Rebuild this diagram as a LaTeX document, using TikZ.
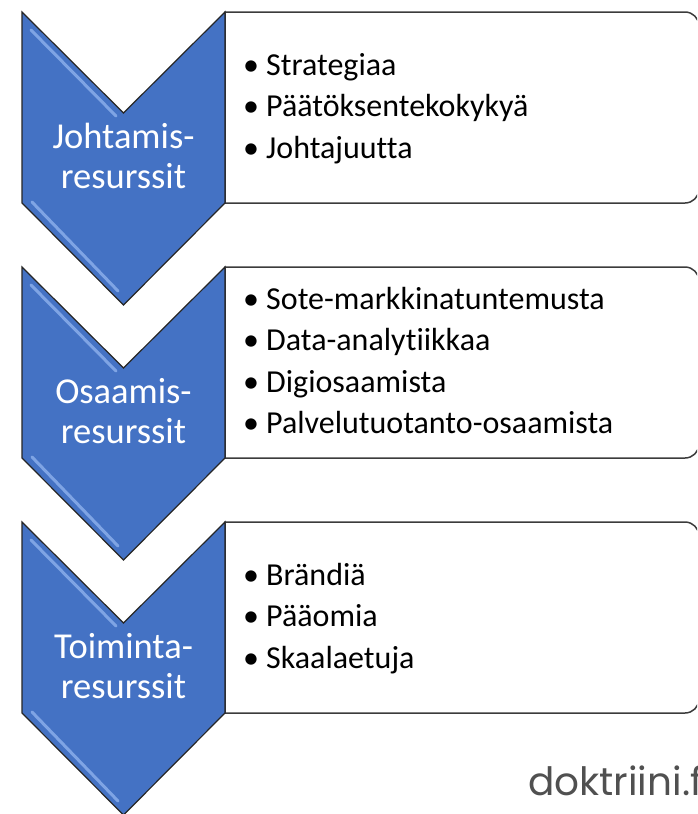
\documentclass[tikz,border=0pt]{standalone}
\usepackage{fontspec}
\setmainfont[Ligatures=NoCommon]{Carlito}
\newfontfamily\logofont{Poppins}
\definecolor{chevblue}{HTML}{4472C4}
\definecolor{chevlight}{HTML}{8EB1EC}
\definecolor{boxline}{HTML}{3C3C3C}
\definecolor{logogray}{HTML}{505050}
\begin{document}
\begin{tikzpicture}[x=1pt,y=-1pt,
  chev/.style={fill=chevblue, draw=black!85, line width=1.2pt, line join=miter},
  bevel/.style={draw=chevlight, line width=3pt, line cap=round, opacity=0.8},
  itembox/.style={draw=boxline, line width=1.5pt, fill=white},
  chevtext/.style={text=white, font=\fontsize{36.5}{40}\selectfont, inner sep=0pt, anchor=base},
  itemtext/.style={font=\fontsize{32}{41.5}\selectfont, inner sep=0pt, anchor=base west},
  bullettext/.style={font=\fontsize{32}{41.5}\selectfont, inner sep=0pt, anchor=base},
  logo/.style={font=\logofont\fontsize{39}{44}\selectfont, text=logogray, inner sep=0pt, anchor=base west}
]
\useasboundingbox (0,0) rectangle (697,814);
\clip (0,0) rectangle (697,814);
\fill[white] (0,0) rectangle (697,814);

\foreach \T/\i/\la/\lb in {12/1/Johtamis-/resurssit, 267/2/Osaamis-/resurssit, 522/3/Toiminta-/resurssit}{
  % content box
  \draw[itembox] (225,\T+191) -- (225,\T) -- (450,\T) [rounded corners=14pt] -- (699,\T) -- (699,\T+191) -- (450,\T+191) [sharp corners] -- (225,\T+191) -- cycle;
  % chevron
  \draw[chev] (22,\T) -- (123.5,\T+101) -- (225,\T) -- (225,\T+191) -- (123.5,\T+293) -- (22,\T+191) -- cycle;
  \draw[bevel] (31,\T+18) -- (116,\T+104);
  \draw[bevel] (32,\T+190) -- (118,\T+279);
  \node[chevtext] (c\i a) at (123.5,\T+136) {\la};
  \node[chevtext] (c\i b) at (123.5,\T+176) {\lb};
}

% lists
\foreach \y/\t/\n in {75.5/Strategiaa/a1, 116.5/Päätöksentekokykyä/a2, 158/Johtajuutta/a3,
  309.25/Sote-markkinatuntemusta/b1, 350.75/Data-analytiikkaa/b2, 392.25/Digiosaamista/b3, 433.75/Palvelutuotanto-osaamista/b4,
  585.5/Brändiä/d1, 626.5/Pääomia/d2, 668/Skaalaetuja/d3}{
  \node[bullettext] (p\n) at (251,\y) {\textbullet};
  \node[itemtext] (\n) at (266,\y) {\t};
}

\node[logo] (logo) at (528,795) {doktriini.fi};
\end{tikzpicture}
\end{document}
